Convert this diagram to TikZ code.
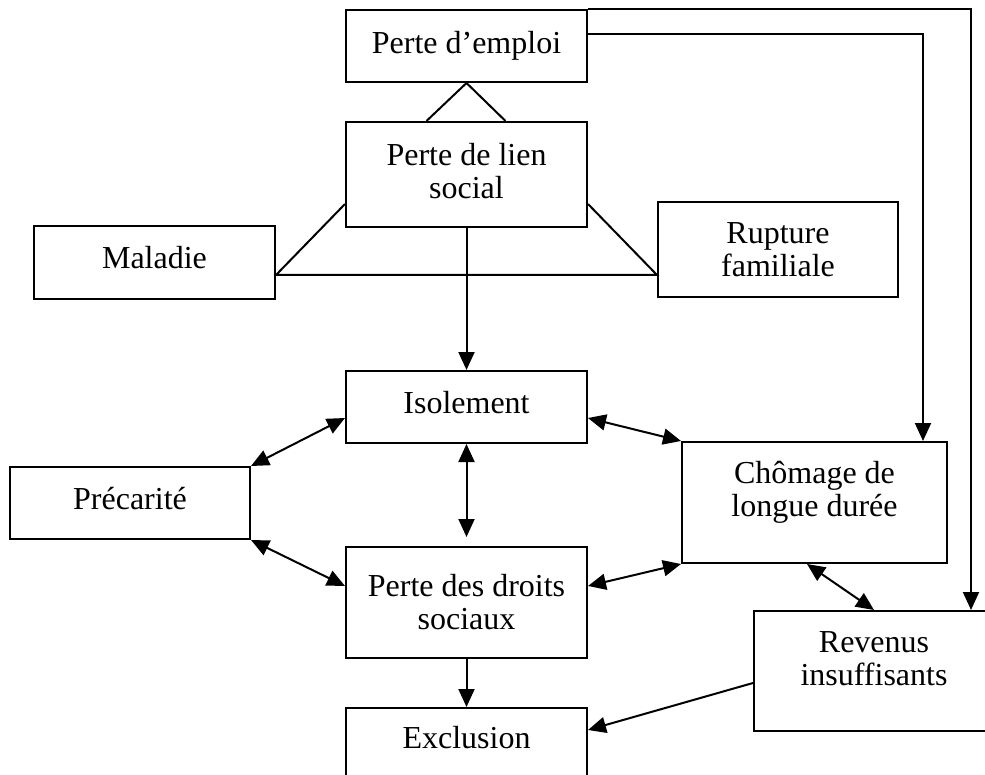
\documentclass[tikz,border=0pt]{standalone}
\usepackage{fontspec}
\setmainfont{Liberation Serif}
\usepackage{tikz}
\usetikzlibrary{arrows.meta,calc}
\tikzstyle{wordbox}=[draw, line width=1pt, align=center, font=\fontsize{16pt}{16.5pt}\selectfont]
\tikzstyle{link}=[line width=1pt]
\tikzstyle{onearrow}=[line width=1pt, -{Triangle[length=9pt,width=8pt]}]
\tikzstyle{twoarrow}=[line width=1pt, {Triangle[length=9pt,width=8pt]}-{Triangle[length=9pt,width=8pt]}]
\newcommand{\lowpad}[1]{\rule[-#1]{0pt}{#1}}

\begin{document}
\begin{tikzpicture}[x=0.5pt, y=-0.5pt]
	\clip (0,0) rectangle (985,775);
	\fill[white] (0,0) rectangle (985,775);
	% boxes
	\node[wordbox, minimum width=120.5pt, minimum height=36pt] (emploi) at (466.5,46) {Perte d’emploi\lowpad{4pt}};
	\node[wordbox, minimum width=120.5pt, minimum height=52.5pt] (lien) at (466.5,174.5) {Perte de lien\\social\lowpad{4pt}};
	\node[wordbox, minimum width=120.5pt, minimum height=36.5pt] (maladie) at (154.5,262.5) {Maladie\lowpad{5pt}};
	\node[wordbox, minimum width=120pt, minimum height=47.5pt] (rupture) at (778,249.5) {Rupture\\familiale};
	\node[wordbox, minimum width=120.5pt, minimum height=36pt] (isolement) at (466.5,407) {Isolement\lowpad{5pt}};
	\node[wordbox, minimum width=120pt, minimum height=36pt] (precarite) at (130,503) {Précarité\lowpad{5pt}};
	\node[wordbox, minimum width=132.5pt, minimum height=60.5pt] (chomage) at (814.5,502.5) {Chômage de\\longue durée\lowpad{14pt}};
	\node[wordbox, minimum width=120.5pt, minimum height=55.5pt] (droits) at (466.5,602.5) {Perte des droits\\sociaux};
	\node[wordbox, minimum width=120pt, minimum height=60pt] (revenus) at (874,671) {Revenus\\insuffisants\lowpad{12pt}};
	\node[wordbox, minimum width=120.5pt, inner ysep=0pt, text height=20pt, text depth=40pt, anchor=north] (exclusion) at (466.5,707) {Exclusion};
	% plain links
	\draw[link] ([xshift=-20pt]lien.north) -- (emploi.south) -- ([xshift=19.5pt]lien.north);
	\draw[link] ([yshift=-14.75pt]lien.west) -- ([yshift=-6.25pt]maladie.east) -- ([yshift=-12.75pt]rupture.west) -- ([yshift=-14.75pt]lien.east);
	% arrows
	\draw[onearrow] (emploi.north east) -| ([xshift=48.5pt]revenus.north);
	\draw[onearrow] ([yshift=6pt]emploi.east) -| ([xshift=54.25pt]chomage.north);
	\draw[onearrow] (lien.south) -- (isolement.north);
	\draw[twoarrow] (precarite.north east) -- ([yshift=-5.5pt]isolement.west);
	\draw[twoarrow] (precarite.south east) -- ([yshift=8.25pt]droits.west);
	\draw[twoarrow, shorten >=4.5pt] (isolement.south) -- (droits.north);
	\draw[twoarrow] ([yshift=-5.5pt]isolement.east) -- (chomage.north west);
	\draw[twoarrow] ([yshift=8.25pt]droits.east) -- (chomage.south west);
	\draw[twoarrow] ([xshift=-3.75pt]chomage.south) -- (revenus.north);
	\draw[onearrow] ([yshift=-6pt]revenus.west) -- ([yshift=-11.5pt]exclusion.north east);
	\draw[onearrow] (droits.south) -- (exclusion.north);
\end{tikzpicture}
\end{document}
